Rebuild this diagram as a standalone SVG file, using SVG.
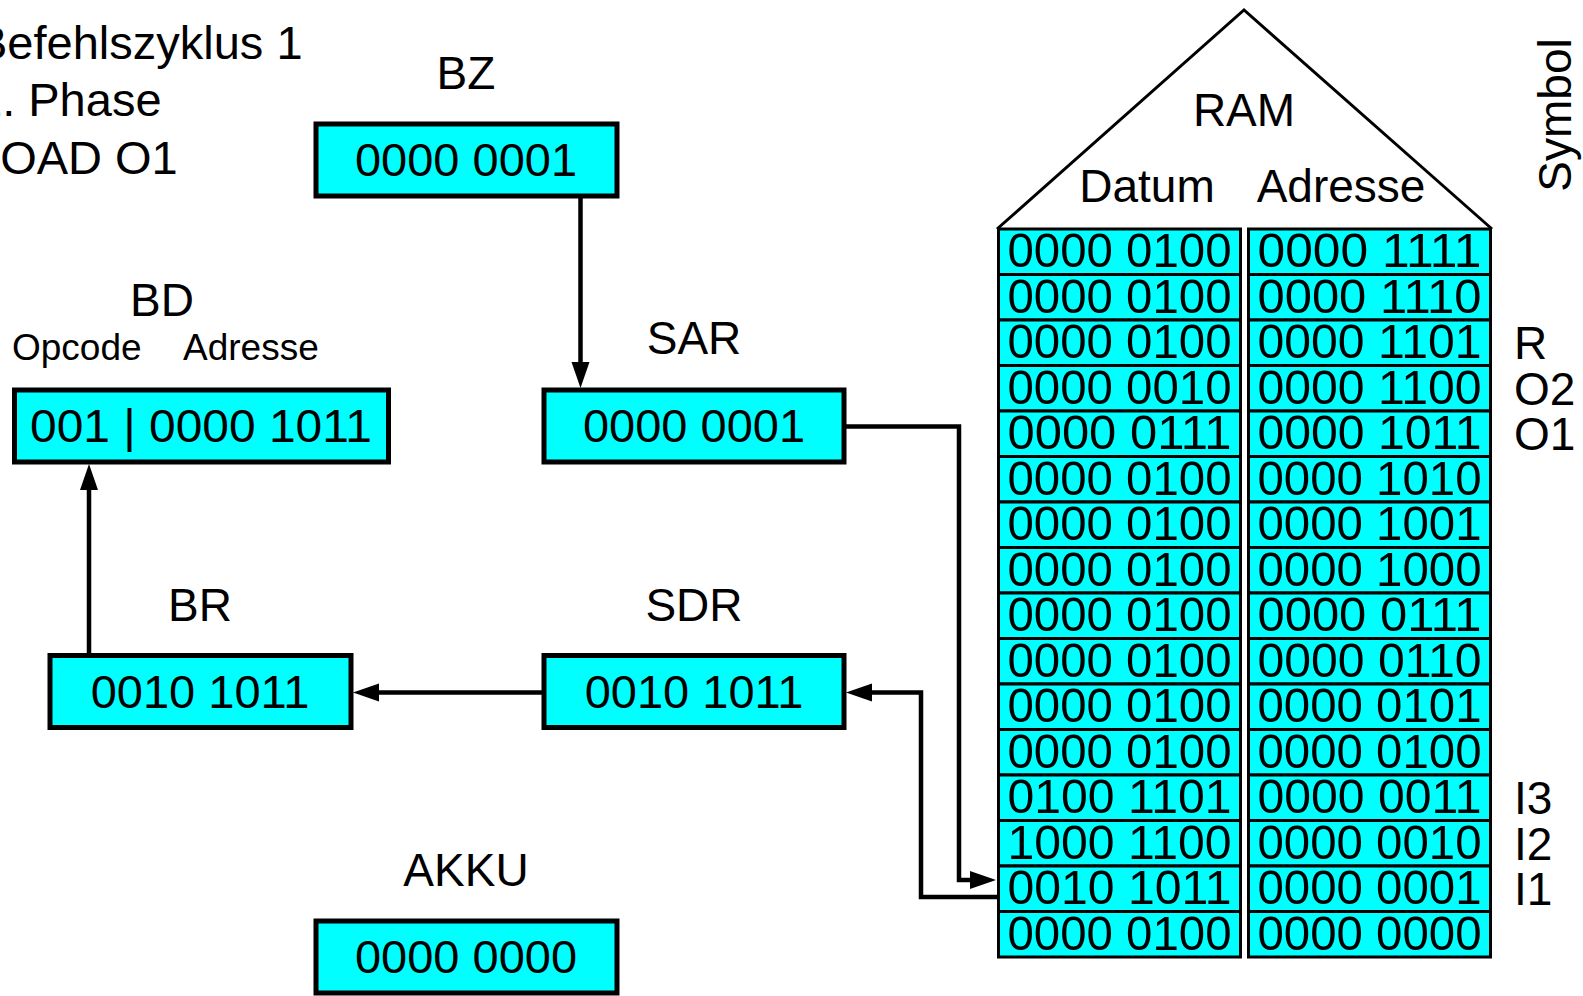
<svg xmlns="http://www.w3.org/2000/svg" width="1583" height="996" viewBox="0 0 1583 996">
<defs>
<style>
text{font-family:"Liberation Sans",Arial,sans-serif;fill:#000}
.lbl{font-size:46px;text-anchor:middle}
.val{font-size:47px;text-anchor:middle}
.reg{fill:#00FFFF;stroke:#000;stroke-width:5}
.cell{fill:#00FFFF;stroke:#000;stroke-width:3}
.ct{font-size:49px;text-anchor:middle}
.sym{font-size:46px}
.ttl{font-size:47px}
.sub{font-size:37px}
.con{fill:none;stroke:#000;stroke-width:4.5;stroke-linejoin:miter}
</style>
<marker id="ah" markerUnits="userSpaceOnUse" markerWidth="28" markerHeight="20" refX="0" refY="9" orient="auto" overflow="visible">
<path d="M0,0 L26,9 L0,18 z" fill="#000"/>
</marker>
</defs>
<rect width="1583" height="996" fill="#fff"/>

<g id="title">
<text class="ttl" x="-24" y="59">Befehlszyklus 1</text>
<text class="ttl" x="-24" y="116">1. Phase</text>
<text class="ttl" x="-26" y="174">LOAD O1</text>
</g>

<g id="connectors">
<path class="con" d="M580.5,198 V362" marker-end="url(#ah)"/>
<path class="con" d="M89,653 V490" marker-end="url(#ah)"/>
<path class="con" d="M542,692.5 H379" marker-end="url(#ah)"/>
<path class="con" d="M846,426.5 H959 V880 H970" marker-end="url(#ah)"/>
<path class="con" d="M997,897 H921 V692.5 H872" marker-end="url(#ah)"/>
</g>

<g id="BZ">
<text class="lbl" x="466" y="89">BZ</text>
<rect class="reg" x="316" y="124" width="301" height="72"/>
<text class="val" x="466" y="176">0000 0001</text>
</g>

<g id="SAR">
<text class="lbl" x="694" y="354">SAR</text>
<rect class="reg" x="544" y="390" width="300" height="72"/>
<text class="val" x="694" y="442">0000 0001</text>
</g>

<g id="BD">
<text class="lbl" x="162" y="316">BD</text>
<text class="sub" x="12" y="360">Opcode</text>
<text class="sub" x="183" y="360">Adresse</text>
<rect class="reg" x="14.5" y="390" width="374" height="72"/>
<text class="val" x="201" y="442" textLength="342" lengthAdjust="spacingAndGlyphs">001 | 0000 1011</text>
</g>

<g id="BR">
<text class="lbl" x="200" y="621">BR</text>
<rect class="reg" x="50" y="655.5" width="301" height="72"/>
<text class="val" x="200" y="708">0010 1011</text>
</g>

<g id="SDR">
<text class="lbl" x="694" y="621">SDR</text>
<rect class="reg" x="544" y="655.5" width="300" height="72"/>
<text class="val" x="694" y="708">0010 1011</text>
</g>

<g id="AKKU">
<text class="lbl" x="466" y="886">AKKU</text>
<rect class="reg" x="316" y="921" width="301" height="72"/>
<text class="val" x="466" y="973">0000 0000</text>
</g>

<g id="RAM">
<path d="M997,229 L1244,10 L1492,229" fill="none" stroke="#000" stroke-width="3"/>
<text class="lbl" x="1244" y="126">RAM</text>
<text class="lbl" x="1147" y="202">Datum</text>
<text class="lbl" x="1341" y="202">Adresse</text>
<g id="ram-cells">
<rect class="cell" x="998.5" y="229" width="242" height="45.5"/><rect class="cell" x="1248.5" y="229" width="242" height="45.5"/>
<rect class="cell" x="998.5" y="274.5" width="242" height="45.5"/><rect class="cell" x="1248.5" y="274.5" width="242" height="45.5"/>
<rect class="cell" x="998.5" y="320" width="242" height="45.5"/><rect class="cell" x="1248.5" y="320" width="242" height="45.5"/>
<rect class="cell" x="998.5" y="365.5" width="242" height="45.5"/><rect class="cell" x="1248.5" y="365.5" width="242" height="45.5"/>
<rect class="cell" x="998.5" y="411" width="242" height="45.5"/><rect class="cell" x="1248.5" y="411" width="242" height="45.5"/>
<rect class="cell" x="998.5" y="456.5" width="242" height="45.5"/><rect class="cell" x="1248.5" y="456.5" width="242" height="45.5"/>
<rect class="cell" x="998.5" y="502" width="242" height="45.5"/><rect class="cell" x="1248.5" y="502" width="242" height="45.5"/>
<rect class="cell" x="998.5" y="547.5" width="242" height="45.5"/><rect class="cell" x="1248.5" y="547.5" width="242" height="45.5"/>
<rect class="cell" x="998.5" y="593" width="242" height="45.5"/><rect class="cell" x="1248.5" y="593" width="242" height="45.5"/>
<rect class="cell" x="998.5" y="638.5" width="242" height="45.5"/><rect class="cell" x="1248.5" y="638.5" width="242" height="45.5"/>
<rect class="cell" x="998.5" y="684" width="242" height="45.5"/><rect class="cell" x="1248.5" y="684" width="242" height="45.5"/>
<rect class="cell" x="998.5" y="729.5" width="242" height="45.5"/><rect class="cell" x="1248.5" y="729.5" width="242" height="45.5"/>
<rect class="cell" x="998.5" y="775" width="242" height="45.5"/><rect class="cell" x="1248.5" y="775" width="242" height="45.5"/>
<rect class="cell" x="998.5" y="820.5" width="242" height="45.5"/><rect class="cell" x="1248.5" y="820.5" width="242" height="45.5"/>
<rect class="cell" x="998.5" y="866" width="242" height="45.5"/><rect class="cell" x="1248.5" y="866" width="242" height="45.5"/>
<rect class="cell" x="998.5" y="911.5" width="242" height="45.5"/><rect class="cell" x="1248.5" y="911.5" width="242" height="45.5"/>
</g>
<g id="ram-text">
<text class="ct" x="1119.5" y="267" textLength="224" lengthAdjust="spacingAndGlyphs">0000 0100</text><text class="ct" x="1369.5" y="267" textLength="224" lengthAdjust="spacingAndGlyphs">0000 1111</text>
<text class="ct" x="1119.5" y="312.5" textLength="224" lengthAdjust="spacingAndGlyphs">0000 0100</text><text class="ct" x="1369.5" y="312.5" textLength="224" lengthAdjust="spacingAndGlyphs">0000 1110</text>
<text class="ct" x="1119.5" y="358" textLength="224" lengthAdjust="spacingAndGlyphs">0000 0100</text><text class="ct" x="1369.5" y="358" textLength="224" lengthAdjust="spacingAndGlyphs">0000 1101</text>
<text class="ct" x="1119.5" y="403.5" textLength="224" lengthAdjust="spacingAndGlyphs">0000 0010</text><text class="ct" x="1369.5" y="403.5" textLength="224" lengthAdjust="spacingAndGlyphs">0000 1100</text>
<text class="ct" x="1119.5" y="449" textLength="224" lengthAdjust="spacingAndGlyphs">0000 0111</text><text class="ct" x="1369.5" y="449" textLength="224" lengthAdjust="spacingAndGlyphs">0000 1011</text>
<text class="ct" x="1119.5" y="494.5" textLength="224" lengthAdjust="spacingAndGlyphs">0000 0100</text><text class="ct" x="1369.5" y="494.5" textLength="224" lengthAdjust="spacingAndGlyphs">0000 1010</text>
<text class="ct" x="1119.5" y="540" textLength="224" lengthAdjust="spacingAndGlyphs">0000 0100</text><text class="ct" x="1369.5" y="540" textLength="224" lengthAdjust="spacingAndGlyphs">0000 1001</text>
<text class="ct" x="1119.5" y="585.5" textLength="224" lengthAdjust="spacingAndGlyphs">0000 0100</text><text class="ct" x="1369.5" y="585.5" textLength="224" lengthAdjust="spacingAndGlyphs">0000 1000</text>
<text class="ct" x="1119.5" y="631" textLength="224" lengthAdjust="spacingAndGlyphs">0000 0100</text><text class="ct" x="1369.5" y="631" textLength="224" lengthAdjust="spacingAndGlyphs">0000 0111</text>
<text class="ct" x="1119.5" y="676.5" textLength="224" lengthAdjust="spacingAndGlyphs">0000 0100</text><text class="ct" x="1369.5" y="676.5" textLength="224" lengthAdjust="spacingAndGlyphs">0000 0110</text>
<text class="ct" x="1119.5" y="722" textLength="224" lengthAdjust="spacingAndGlyphs">0000 0100</text><text class="ct" x="1369.5" y="722" textLength="224" lengthAdjust="spacingAndGlyphs">0000 0101</text>
<text class="ct" x="1119.5" y="767.5" textLength="224" lengthAdjust="spacingAndGlyphs">0000 0100</text><text class="ct" x="1369.5" y="767.5" textLength="224" lengthAdjust="spacingAndGlyphs">0000 0100</text>
<text class="ct" x="1119.5" y="813" textLength="224" lengthAdjust="spacingAndGlyphs">0100 1101</text><text class="ct" x="1369.5" y="813" textLength="224" lengthAdjust="spacingAndGlyphs">0000 0011</text>
<text class="ct" x="1119.5" y="858.5" textLength="224" lengthAdjust="spacingAndGlyphs">1000 1100</text><text class="ct" x="1369.5" y="858.5" textLength="224" lengthAdjust="spacingAndGlyphs">0000 0010</text>
<text class="ct" x="1119.5" y="904" textLength="224" lengthAdjust="spacingAndGlyphs">0010 1011</text><text class="ct" x="1369.5" y="904" textLength="224" lengthAdjust="spacingAndGlyphs">0000 0001</text>
<text class="ct" x="1119.5" y="949.5" textLength="224" lengthAdjust="spacingAndGlyphs">0000 0100</text><text class="ct" x="1369.5" y="949.5" textLength="224" lengthAdjust="spacingAndGlyphs">0000 0000</text>
</g>
</g>

<g id="symbols">
<text class="sym" transform="translate(1571,115) rotate(-90)" text-anchor="middle">Symbol</text>
<text class="sym" x="1514" y="359">R</text>
<text class="sym" x="1514" y="404.5">O2</text>
<text class="sym" x="1514" y="450">O1</text>
<text class="sym" x="1514" y="814">I3</text>
<text class="sym" x="1514" y="859.5">I2</text>
<text class="sym" x="1514" y="905">I1</text>
</g>
</svg>
